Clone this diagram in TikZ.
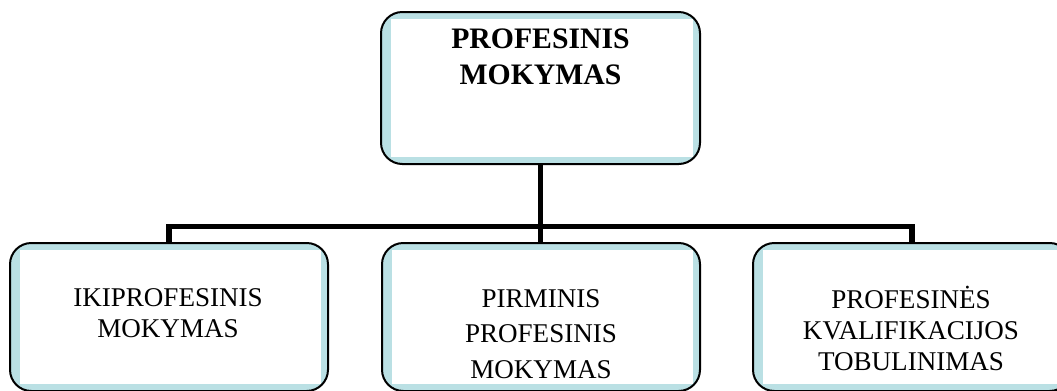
\documentclass[tikz,border=0pt]{standalone}
\usepackage{fontspec}
\setmainfont{Liberation Serif}
\definecolor{boxblue}{RGB}{186,224,228}
\tikzset{
  boxnode/.style={draw=black, line width=1.5pt, fill=boxblue, rounded corners=16pt,
    minimum width={#1}, inner sep=0pt,
    path picture={\fill[white, sharp corners] ([xshift=7.5pt,yshift=5.25pt]path picture bounding box.south west)
      rectangle ([xshift=-5.25pt,yshift=-5.25pt]path picture bounding box.north east);}},
  conn/.style={line width=3.8pt, line join=miter},
  txt/.style={align=center, inner sep=0pt, text=black},
  boldtxt/.style={txt, font=\fontsize{22.3}{27}\selectfont\bfseries},
  regtxt/.style={txt, font=\fontsize{20.3}{23.25}\selectfont},
  midtxt/.style={txt, font=\fontsize{20.3}{26.6}\selectfont}
}
\begin{document}
\begin{tikzpicture}[x=0.75pt,y=-0.75pt]
\useasboundingbox (0,0) rectangle (1057,390);
\clip (0,0) rectangle (1057,390);
% boxes
\node[boxnode={319*0.75pt}, minimum height={152*0.75pt}] (top) at (540.5,88) {};
\node[boxnode={318*0.75pt}, minimum height={148*0.75pt}] (lb) at (169,317) {};
\node[boxnode={318*0.75pt}, minimum height={148*0.75pt}] (mb) at (541,317) {};
\node[boxnode={318*0.75pt}, minimum height={148*0.75pt}] (rb) at (912,317) {};
% texts
\node[boldtxt] (ttop) at (540.5,56.5) {PROFESINIS\\MOKYMAS};
\node[regtxt] (tlb) at (168,313.5) {IKIPROFESINIS\\MOKYMAS};
\node[midtxt] (tmb) at (541,334) {PIRMINIS\\PROFESINIS\\MOKYMAS};
\node[regtxt] (trb) at (911,328) {PROFESINĖS\\KVALIFIKACIJOS\\TOBULINIMAS};
% connectors
\coordinate (hub) at (540.5,226.5);
\draw[conn] (top.south) -- (top.south |- mb.north);
\draw[conn] (lb.north) -- (lb.north |- hub) -- (rb.north |- hub) -- (rb.north);
\end{tikzpicture}
\end{document}
